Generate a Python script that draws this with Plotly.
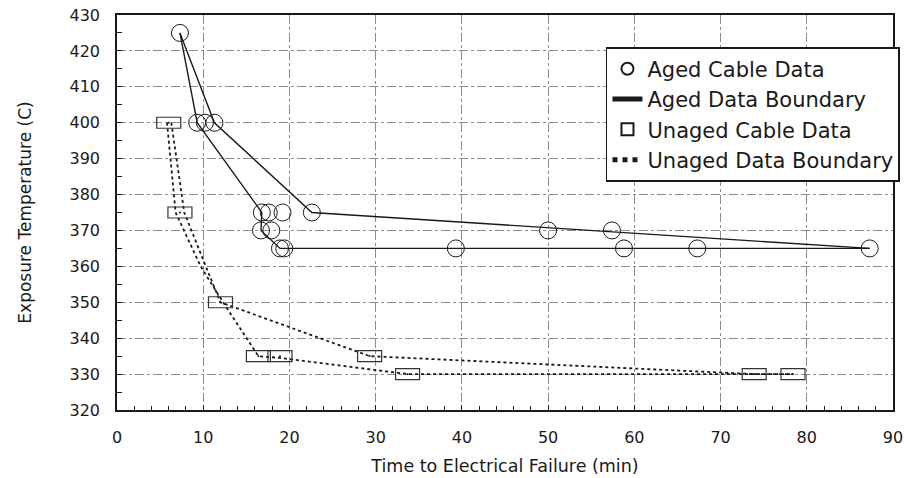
import plotly.graph_objects as go

# ---- data ----
aged_time = [7.3, 9.3, 10.2, 11.3, 16.8, 17.6, 19.2, 22.6, 16.7, 17.9, 18.9, 19.4,
             39.3, 50.0, 57.4, 58.8, 67.3, 87.3]
aged_temp = [425, 400, 400, 400, 375, 375, 375, 375, 370, 370, 365, 365,
             365, 370, 370, 365, 365, 365]

aged_upper_time = [7.3, 11.3, 22.6, 87.3]
aged_upper_temp = [425, 400, 375, 365]
aged_lower_time = [7.3, 9.3, 16.8, 16.7, 18.9, 87.3]
aged_lower_temp = [425, 400, 375, 370, 365, 365]

unaged_time = [6.0, 7.3, 12.0, 16.4, 18.9, 29.3, 33.7, 73.9, 78.4]
unaged_temp = [400, 375, 350, 335, 335, 335, 330, 330, 330]

unaged_a_time = [6.3, 7.8, 10.3, 12.0, 29.3, 73.9, 78.4]
unaged_a_temp = [400, 375, 360, 350, 335, 330, 330]
unaged_b_time = [5.8, 6.8, 9.7, 12.3, 16.4, 18.9, 33.7, 78.4]
unaged_b_temp = [400, 375, 360, 350, 335, 334.5, 330, 330]

x_ticks = [0, 10, 20, 30, 40, 50, 60, 70, 80, 90]
y_ticks = [320, 330, 340, 350, 360, 370, 380, 390, 400, 410, 420, 430]

FONT = "DejaVu Sans"
INK = "#1a1a1a"

fig = go.Figure()

fig.add_trace(go.Scatter(
    x=aged_time, y=aged_temp, mode="markers", name="Aged Cable Data",
    legendgroup="aged_pts",
    marker=dict(symbol="circle-open", size=17, color=INK, line=dict(width=1, color=INK)),
))
fig.add_trace(go.Scatter(
    x=aged_upper_time, y=aged_upper_temp, mode="lines", name="Aged Data Boundary",
    legendgroup="aged", line=dict(color=INK, width=1.4),
))
fig.add_trace(go.Scatter(
    x=aged_lower_time, y=aged_lower_temp, mode="lines", name="Aged Data Boundary",
    legendgroup="aged", showlegend=False, line=dict(color=INK, width=1.4),
))
fig.add_trace(go.Scatter(
    x=unaged_time, y=unaged_temp, mode="markers", name="Unaged Cable Data",
    legendgroup="unaged_pts",
    marker=dict(symbol="square-open", size=1, color=INK, line=dict(width=1, color=INK)),
))
fig.add_trace(go.Scatter(
    x=unaged_a_time, y=unaged_a_temp, mode="lines", name="Unaged Data Boundary",
    legendgroup="unaged", line=dict(color=INK, width=1.8, dash="dot"),
))
fig.add_trace(go.Scatter(
    x=unaged_b_time, y=unaged_b_temp, mode="lines", name="Unaged Data Boundary",
    legendgroup="unaged", showlegend=False, line=dict(color=INK, width=1.8, dash="dot"),
))

# wide rectangular markers for the unaged data, anchored at the data values
shapes = []
for t, v in zip(unaged_time, unaged_temp):
    shapes.append(dict(
        type="rect", xref="x", yref="y",
        xsizemode="pixel", ysizemode="pixel",
        xanchor=t, yanchor=v, x0=-12, x1=12, y0=-5.5, y1=5.5,
        line=dict(color="#333333", width=1.2), fillcolor="rgba(0,0,0,0)",
    ))

axis_common = dict(
    showline=True, linecolor=INK, linewidth=1.6, mirror=True,
    showgrid=True, gridcolor="#8c8c8c", gridwidth=1, griddash="dashdot",
    zeroline=False, ticks="inside", ticklen=5, tickcolor=INK,
    tickfont=dict(family=FONT, size=16, color=INK), automargin=False,
)

fig.update_layout(
    width=905, height=478,
    margin=dict(l=117, r=12, t=15, b=68, autoexpand=False),
    paper_bgcolor="white", plot_bgcolor="white",
    shapes=shapes,
    xaxis=dict(
        range=[0, 90], tickvals=x_ticks, ticktext=[str(v) for v in x_ticks],
        minor=dict(dtick=2, ticks="inside", ticklen=4, tickcolor=INK, showgrid=False),
        ticklabelstandoff=12,
        title=dict(text="Time to Electrical Failure (min)",
                   font=dict(family=FONT, size=17.5, color=INK), standoff=14),
        **axis_common,
    ),
    yaxis=dict(
        range=[320, 430], tickvals=y_ticks, ticktext=[str(v) for v in y_ticks],
        minor=dict(dtick=5, ticks="inside", ticklen=5, tickcolor=INK, showgrid=False),
        ticklabelstandoff=12,
        title=dict(text="Exposure Temperature (C)",
                   font=dict(family=FONT, size=17, color=INK), standoff=34),
        **axis_common,
    ),
    legend=dict(
        x=0.630, y=0.919, xanchor="left", yanchor="top",
        bgcolor="white", bordercolor=INK, borderwidth=1.6,
        font=dict(family=FONT, size=21, color=INK),
        itemsizing="constant", traceorder="normal", tracegroupgap=3,
    ),
    showlegend=True,
)

fig.write_html("out.html")
